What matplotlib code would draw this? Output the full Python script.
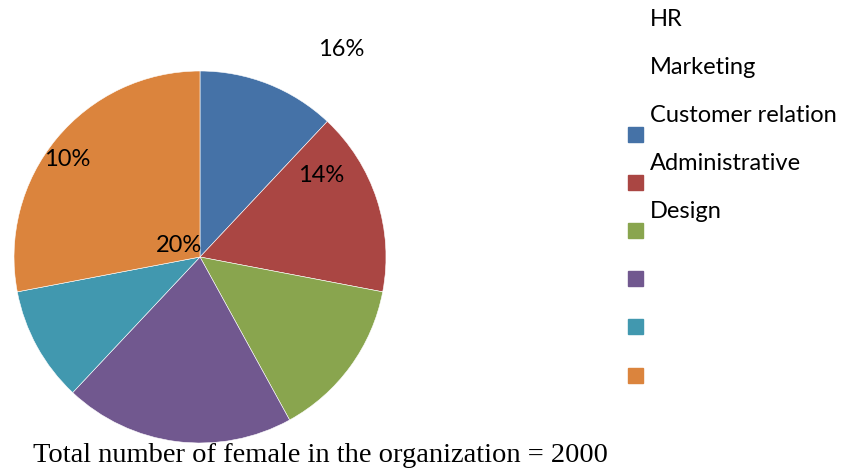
import matplotlib.pyplot as plt
from matplotlib.patches import Rectangle

# Slice shares (percent), clockwise from 12 o'clock
shares = [12, 16, 14, 20, 10, 28]
colors = ["#4572A7", "#AA4643", "#89A54E", "#71588F", "#4198AF", "#DB843D"]
legend_names = ["HR", "Marketing", "Customer relation", "Administrative", "Design"]
shown_labels = ["16%", "14%", "10%", "20%"]
label_pos = [(341, 50), (321, 175), (67, 159), (179, 245)]  # pixel positions
footer = "Total number of female in the organization = 2000"

W, H = 848, 468
fig = plt.figure(figsize=(W / 100, H / 100), dpi=100)

# pie axes: centre (200, 257) px, radius 186 px
cx, cy, r = 200, 257, 186
ax = fig.add_axes([(cx - r) / W, (H - cy - r) / H, 2 * r / W, 2 * r / H])
ax.pie(shares, colors=colors, startangle=90, counterclock=False,
       wedgeprops=dict(edgecolor="white", linewidth=0.4))
ax.set_aspect("auto")
ax.set_xlim(-1, 1)
ax.set_ylim(-1, 1)
ax.axis("off")

font = "Lato"
for txt, (px, py) in zip(shown_labels, label_pos):
    fig.text(px / W, 1 - py / H, txt, ha="center", va="center",
             fontsize=17, family=font, color="black")

# legend: names and swatches are offset from each other
for i, name in enumerate(legend_names):
    fig.text(650 / W, 1 - (19 + i * 48.2) / H, name, ha="left", va="center",
             fontsize=17, family=font, color="black")
for i, c in enumerate(colors):
    yc = 134 + i * 48.2
    fig.patches.append(Rectangle((628 / W, 1 - (yc + 7.5) / H), 15 / W, 15 / H,
                                 transform=fig.transFigure, color=c))

fig.text(33 / W, 1 - 462 / H, footer, ha="left", va="baseline",
         fontsize=20.5, family="Liberation Serif", color="black")

fig.savefig("out.png", dpi=100)
